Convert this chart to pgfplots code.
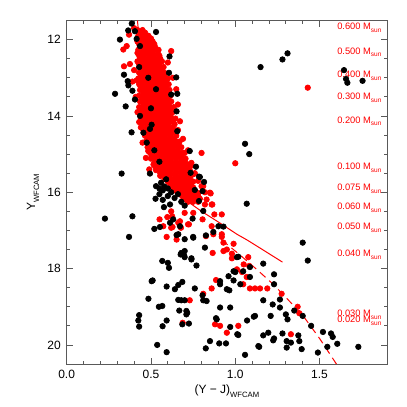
\documentclass[border=0pt]{standalone}
\usepackage{fontspec}
\setmainfont{Liberation Sans}
\usepackage{pgfplots}
\pgfplotsset{compat=1.18}
\newcommand\lab[1]{\fontsize{7.2}{8}\selectfont #1}
\newcommand\sub[1]{\raisebox{-0.35em}{\fontsize{4.6}{5}\selectfont #1}}
\newcommand\msun[1]{\fontsize{5.6}{6}\selectfont #1 M\raisebox{-0.3em}{\fontsize{3.9}{4}\selectfont sun}}
\begin{document}
\begin{tikzpicture}
\path[use as bounding box] (-40pt,-25.8pt) rectangle (204.2pt,218.4pt);
\begin{axis}[
    scale only axis,
    width=192.2pt, height=206.1pt,
    xmin=0, xmax=1.9,
    ymin=11.5, ymax=20.5,
    y dir=reverse,
    xtick={0,0.5,1.0,1.5},
    xticklabels={0.0,0.5,1.0,1.5},
    minor x tick num=4,
    ytick={12,14,16,18,20},
    minor y tick num=3,
    tick align=inside,
    major tick length=3.6pt,
    minor tick length=1.8pt,
    axis line style={black!65, line width=0.5pt},
    every tick/.style={black!65, line width=0.5pt},
    tick label style={font=\lab},
    /pgf/number format/assume math mode=true,
    xlabel={\lab{(Y − J)\sub{WFCAM}}},
    ylabel={\lab{Y\sub{WFCAM}}},
    xlabel style={yshift=3pt},
    ylabel style={yshift=-2pt},
    clip=true,
]
% members (red)
\addplot[only marks, mark=*, mark size=1.65pt, red, mark options={draw=red, fill=red}] coordinates {
(0.42,11.75) (0.45,11.75)
(0.425,11.90) (0.455,11.90) (0.485,11.90)
(0.42,12.05) (0.45,12.05) (0.48,12.05) (0.51,12.05)
(0.435,12.20) (0.465,12.20) (0.495,12.20) (0.525,12.20)
(0.42,12.35) (0.45,12.35) (0.48,12.35) (0.51,12.35) (0.54,12.35)
(0.435,12.50) (0.465,12.50) (0.495,12.50) (0.525,12.50) (0.555,12.50)
(0.43,12.65) (0.46,12.65) (0.49,12.65) (0.52,12.65) (0.55,12.65)
(0.445,12.80) (0.475,12.80) (0.505,12.80) (0.535,12.80) (0.565,12.80)
(0.44,12.95) (0.47,12.95) (0.50,12.95) (0.53,12.95) (0.56,12.95) (0.58,12.95)
(0.445,13.10) (0.475,13.10) (0.505,13.10) (0.535,13.10) (0.565,13.10) (0.59,13.10)
(0.44,13.25) (0.47,13.25) (0.50,13.25) (0.53,13.25) (0.56,13.25) (0.59,13.25)
(0.455,13.40) (0.485,13.40) (0.515,13.40) (0.545,13.40) (0.575,13.40) (0.60,13.40)
(0.45,13.55) (0.48,13.55) (0.51,13.55) (0.54,13.55) (0.57,13.55) (0.60,13.55)
(0.455,13.70) (0.485,13.70) (0.515,13.70) (0.545,13.70) (0.575,13.70) (0.605,13.70)
(0.45,13.85) (0.48,13.85) (0.51,13.85) (0.54,13.85) (0.57,13.85) (0.60,13.85) (0.62,13.85)
(0.465,14.00) (0.495,14.00) (0.525,14.00) (0.555,14.00) (0.585,14.00) (0.615,14.00)
(0.46,14.15) (0.49,14.15) (0.52,14.15) (0.55,14.15) (0.58,14.15) (0.61,14.15) (0.63,14.15)
(0.475,14.30) (0.505,14.30) (0.535,14.30) (0.565,14.30) (0.595,14.30) (0.625,14.30)
(0.47,14.45) (0.50,14.45) (0.53,14.45) (0.56,14.45) (0.59,14.45) (0.62,14.45) (0.645,14.45)
(0.485,14.60) (0.515,14.60) (0.545,14.60) (0.575,14.60) (0.605,14.60) (0.635,14.60)
(0.49,14.75) (0.52,14.75) (0.55,14.75) (0.58,14.75) (0.61,14.75) (0.64,14.75) (0.66,14.75)
(0.505,14.90) (0.535,14.90) (0.565,14.90) (0.595,14.90) (0.625,14.90) (0.655,14.90)
(0.51,15.05) (0.54,15.05) (0.57,15.05) (0.60,15.05) (0.63,15.05) (0.66,15.05) (0.68,15.05)
(0.525,15.20) (0.555,15.20) (0.585,15.20) (0.615,15.20) (0.645,15.20) (0.675,15.20)
(0.54,15.35) (0.57,15.35) (0.60,15.35) (0.63,15.35) (0.66,15.35) (0.69,15.35) (0.71,15.35)
(0.555,15.50) (0.585,15.50) (0.615,15.50) (0.645,15.50) (0.675,15.50) (0.705,15.50)
(0.58,15.65) (0.61,15.65) (0.64,15.65) (0.67,15.65) (0.70,15.65) (0.73,15.65)
(0.615,15.80) (0.645,15.80) (0.675,15.80) (0.705,15.80) (0.735,15.80)
(0.64,15.95) (0.67,15.95) (0.70,15.95) (0.73,15.95) (0.76,15.95)
(0.685,16.10) (0.715,16.10) (0.745,16.10) (0.775,16.10)
(0.72,16.25) (0.75,16.25) (0.78,16.25)
(0.435,11.82) (0.465,11.82)
(0.44,11.97) (0.47,11.97) (0.50,11.97)
(0.43,12.12) (0.46,12.12) (0.49,12.12) (0.52,12.12)
(0.425,12.27) (0.455,12.27) (0.485,12.27) (0.515,12.27) (0.545,12.27)
(0.43,12.42) (0.46,12.42) (0.49,12.42) (0.52,12.42) (0.55,12.42)
(0.42,12.57) (0.45,12.57) (0.48,12.57) (0.51,12.57) (0.54,12.57) (0.565,12.57)
(0.435,12.72) (0.465,12.72) (0.495,12.72) (0.525,12.72) (0.555,12.72) (0.575,12.72)
(0.43,12.87) (0.46,12.87) (0.49,12.87) (0.52,12.87) (0.55,12.87) (0.58,12.87)
(0.425,13.02) (0.455,13.02) (0.485,13.02) (0.515,13.02) (0.545,13.02) (0.575,13.02) (0.60,13.02)
(0.43,13.17) (0.46,13.17) (0.49,13.17) (0.52,13.17) (0.55,13.17) (0.58,13.17) (0.605,13.17)
(0.435,13.32) (0.465,13.32) (0.495,13.32) (0.525,13.32) (0.555,13.32) (0.585,13.32) (0.61,13.32)
(0.43,13.47) (0.46,13.47) (0.49,13.47) (0.52,13.47) (0.55,13.47) (0.58,13.47) (0.615,13.47)
(0.435,13.62) (0.465,13.62) (0.495,13.62) (0.525,13.62) (0.555,13.62) (0.585,13.62) (0.62,13.62)
(0.43,13.77) (0.46,13.77) (0.49,13.77) (0.52,13.77) (0.55,13.77) (0.58,13.77) (0.61,13.77) (0.635,13.77)
(0.445,13.92) (0.475,13.92) (0.505,13.92) (0.535,13.92) (0.565,13.92) (0.595,13.92) (0.625,13.92)
(0.44,14.07) (0.47,14.07) (0.50,14.07) (0.53,14.07) (0.56,14.07) (0.59,14.07) (0.62,14.07) (0.645,14.07)
(0.45,14.22) (0.48,14.22) (0.51,14.22) (0.54,14.22) (0.57,14.22) (0.60,14.22) (0.64,14.22)
(0.455,14.37) (0.485,14.37) (0.515,14.37) (0.545,14.37) (0.575,14.37) (0.605,14.37) (0.64,14.37) (0.66,14.37)
(0.465,14.52) (0.495,14.52) (0.525,14.52) (0.555,14.52) (0.585,14.52) (0.615,14.52) (0.65,14.52)
(0.47,14.67) (0.50,14.67) (0.53,14.67) (0.56,14.67) (0.59,14.67) (0.62,14.67) (0.65,14.67) (0.67,14.67)
(0.48,14.82) (0.51,14.82) (0.54,14.82) (0.57,14.82) (0.60,14.82) (0.63,14.82) (0.66,14.82) (0.68,14.82)
(0.495,14.97) (0.525,14.97) (0.555,14.97) (0.585,14.97) (0.615,14.97) (0.645,14.97) (0.675,14.97) (0.70,14.97)
(0.50,15.12) (0.53,15.12) (0.56,15.12) (0.59,15.12) (0.62,15.12) (0.65,15.12) (0.68,15.12) (0.705,15.12)
(0.515,15.27) (0.545,15.27) (0.575,15.27) (0.605,15.27) (0.635,15.27) (0.665,15.27) (0.695,15.27) (0.72,15.27)
(0.53,15.42) (0.56,15.42) (0.59,15.42) (0.62,15.42) (0.65,15.42) (0.68,15.42) (0.71,15.42) (0.73,15.42)
(0.555,15.57) (0.585,15.57) (0.615,15.57) (0.645,15.57) (0.675,15.57) (0.705,15.57) (0.735,15.57)
(0.60,15.72) (0.63,15.72) (0.66,15.72) (0.69,15.72) (0.72,15.72) (0.75,15.72)
(0.63,15.87) (0.66,15.87) (0.69,15.87) (0.72,15.87) (0.75,15.87)
(0.66,16.02) (0.69,16.02) (0.72,16.02) (0.75,16.02) (0.78,16.02)
(0.70,16.17) (0.73,16.17) (0.76,16.17) (0.79,16.17)
(0.336,12.26) (0.356,12.17) (0.34,12.70) (0.375,12.64) (0.37,11.87) (0.40,11.70)
(0.415,13.07) (0.40,12.80) (0.39,13.10) (0.41,13.50) (0.42,13.90) (0.44,14.30)
(0.45,14.70) (0.47,15.10) (0.49,15.40) (0.43,14.16) (0.465,14.49) (0.484,14.92)
(0.504,15.05) (0.524,15.32) (0.62,12.30) (0.60,12.60) (0.63,13.00) (0.65,13.30)
(0.66,13.70) (0.672,14.14) (0.69,14.60) (0.69,14.97) (0.72,14.90) (0.74,15.30)
(0.76,15.50) (0.78,15.70) (0.70,15.19) (0.74,15.23) (0.75,15.53) (0.80,14.97)
(1.00,15.24) (1.43,13.26) (0.80,15.84) (0.82,16.00) (0.854,16.03) (0.81,15.84)
(0.85,16.01) (0.864,16.32) (0.83,16.19) (0.876,16.58) (0.92,16.58) (0.806,16.71)
(0.86,16.89) (0.87,17.10) (0.92,17.10) (0.72,16.84) (0.82,16.32) (0.86,16.32)
(0.78,16.10) (0.75,16.15) (0.551,16.71) (0.573,16.89) (0.593,17.17) (0.652,17.24)
(0.62,16.93) (0.626,16.63) (0.672,16.76) (0.725,16.84) (0.751,16.54) (0.70,16.54)
(0.62,16.50) (0.597,16.65) (0.628,16.91) (0.662,16.80) (0.678,16.93) (0.826,17.15)
(0.92,17.17) (0.93,17.32) (0.866,17.59) (0.93,17.54) (0.95,17.50) (0.98,17.73)
(1.077,17.70) (1.01,18.02) (1.068,18.22) (1.047,18.41) (1.087,18.52) (1.117,18.52)
(1.147,18.52) (1.19,18.52) (0.886,18.30) (0.86,18.52) (0.81,18.66) (0.73,18.83)
(0.88,19.46) (0.91,19.50) (0.95,19.68) (1.018,19.50) (0.688,19.42) (1.275,18.66)
(1.37,19.00) (1.38,19.17) (1.33,19.72) (0.99,17.35) (0.98,17.61) (1.05,17.89)
(1.083,17.93) (1.04,18.09)
};
% non-members (black)
\addplot[only marks, mark=*, mark size=1.65pt, black, mark options={draw=black, fill=black}] coordinates {
(0.386,11.58) (0.365,11.76) (0.405,11.78) (0.415,11.98) (0.53,11.80) (0.316,12.00)
(0.34,12.92) (0.362,13.09) (0.366,13.20) (0.39,13.34) (0.287,13.42) (0.405,13.57)
(0.35,13.75) (0.385,14.43) (0.61,12.44) (0.607,12.87) (0.65,12.99) (0.62,13.44)
(0.656,13.42) (0.326,15.51) (0.475,14.70) (0.435,14.00) (0.43,12.72) (0.435,12.17)
(0.484,13.00) (0.652,13.88) (0.656,14.40) (0.455,14.44) (0.494,14.34) (0.504,14.23)
(0.494,15.51) (0.735,15.49) (0.53,13.30) (0.50,13.80) (0.52,14.90) (0.55,15.20)
(1.15,12.72) (1.28,12.52) (1.31,12.36) (1.645,12.80) (1.657,13.03) (1.665,13.13)
(1.755,13.08) (1.058,14.73) (1.083,15.00) (0.79,15.60) (0.815,15.73) (0.806,15.97)
(1.068,16.30) (1.40,17.32) (1.43,17.79) (0.73,14.92) (0.767,15.33) (0.785,15.59)
(0.76,15.94) (0.785,16.23) (0.81,16.49) (0.747,16.69)
(0.53,15.84) (0.55,15.90) (0.57,15.95) (0.59,15.66) (0.56,15.75) (0.58,15.85)
(0.60,15.90) (0.62,16.00) (0.60,16.10) (0.64,16.15) (0.66,16.05) (0.55,16.05)
(0.57,16.20) (0.527,16.17) (0.613,16.32) (0.577,16.39) (0.68,16.25) (0.70,16.35)
(0.227,16.69) (0.39,16.63) (0.37,17.17) (0.52,16.96) (0.553,16.91) (0.613,16.80)
(0.672,16.89) (0.652,17.12) (0.70,17.23) (0.632,16.71) (0.662,17.10) (0.676,17.63)
(0.70,17.70) (0.696,17.65) (0.68,17.59) (0.74,17.76) (0.75,17.17) (0.77,17.92)
(0.567,17.80) (0.60,17.85) (0.607,17.98) (0.70,17.54) (0.90,16.89) (0.93,16.90)
(0.87,17.04) (0.826,17.13) (0.751,17.19) (0.82,17.45) (0.74,17.73) (1.018,17.69)
(0.99,18.07) (0.96,18.20) (0.91,18.33) (0.965,18.57) (1.047,18.07) (1.087,17.96)
(1.01,17.70) (1.166,17.87) (1.23,18.15) (1.23,18.41) (1.00,18.09) (1.03,18.41)
(0.99,18.31) (1.087,18.22) (0.95,18.54) (0.91,18.41) (0.76,18.52)
(0.51,18.31) (0.593,18.47) (0.485,18.79) (0.504,18.33) (0.642,18.54) (0.662,18.43)
(0.686,18.35) (0.547,19.00) (0.567,18.98) (0.662,18.82) (0.70,18.83) (0.668,19.10)
(0.71,19.11) (0.71,19.20) (0.425,19.36) (0.43,19.22) (0.43,19.52) (0.593,19.36)
(0.569,19.51) (0.686,19.46) (0.725,19.44) (0.537,20.00) (0.593,20.19) (0.81,18.83)
(0.806,18.70) (0.83,18.85) (0.91,19.02) (0.886,19.30) (0.97,19.53) (1.012,19.72)
(1.117,19.24) (1.21,19.24) (1.196,19.68) (1.225,19.88) (1.137,20.03) (1.058,20.26)
(0.85,19.90) (0.825,20.09) (0.905,19.96) (0.945,19.96) (0.715,19.16) (0.68,18.83)
(0.89,19.33) (0.97,19.02) (1.11,19.26) (1.07,19.36) (1.018,19.74) (1.166,18.83)
(1.222,18.94) (1.265,18.81) (1.265,19.02) (1.30,19.20) (1.31,19.33) (1.35,19.10)
(1.40,19.24) (1.45,19.50) (1.28,19.70) (1.305,19.90) (1.33,19.94) (1.305,20.07)
(1.374,19.75) (1.38,19.90) (1.394,20.11) (1.23,19.83) (1.49,20.20) (1.52,19.66)
(1.568,19.70) (1.578,19.79) (1.546,20.05) (1.605,19.97) (1.73,20.05) (1.142,20.05)
(1.166,19.75)
};
% isochrones
\addplot[red, line width=0.6pt] coordinates {
(0.42,11.5) (0.44,12.5) (0.47,13.7) (0.52,14.8) (0.58,15.5) (0.64,15.95)
(0.72,16.25) (0.80,16.5) (0.90,16.78) (1.01,17.1) (1.07,17.25) (1.15,17.47) (1.28,17.83)
};
\addplot[red, line width=0.6pt, dash pattern=on 4.5pt off 3pt] coordinates {
(0.92,17.25) (1.03,17.65) (1.127,18.02) (1.225,18.41) (1.31,18.8) (1.403,19.24) (1.50,19.83) (1.60,20.5)
};
% mass scale
\begin{scope}[every node/.style={anchor=west, text=red, inner sep=0pt}]
\node at (axis cs:1.603,11.69) {\msun{0.600}};
\node at (axis cs:1.603,12.33) {\msun{0.500}};
\node at (axis cs:1.603,12.94) {\msun{0.400}};
\node at (axis cs:1.603,13.52) {\msun{0.300}};
\node at (axis cs:1.603,14.14) {\msun{0.200}};
\node at (axis cs:1.603,15.35) {\msun{0.100}};
\node at (axis cs:1.603,15.90) {\msun{0.075}};
\node at (axis cs:1.603,16.40) {\msun{0.060}};
\node at (axis cs:1.603,16.92) {\msun{0.050}};
\node at (axis cs:1.603,17.63) {\msun{0.040}};
\node at (axis cs:1.603,19.20) {\msun{0.030}};
\node at (axis cs:1.603,19.37) {\msun{0.020}};
\end{scope}
\end{axis}
\end{tikzpicture}
\end{document}
